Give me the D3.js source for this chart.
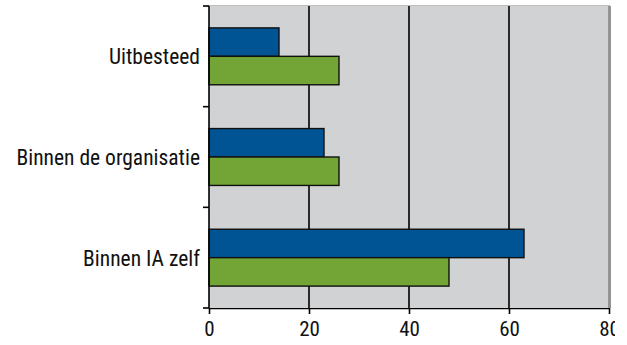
<!DOCTYPE html>
<html><head><meta charset="utf-8">
<script src="https://cdn.jsdelivr.net/npm/d3@7"></script>
<style>
html,body{margin:0;padding:0;background:#fff;}
text{font-family:"Liberation Sans Narrow","Roboto Condensed","Arial Narrow","Liberation Sans",sans-serif;}
</style></head>
<body><svg id="c" width="627" height="345"></svg>
<script>
const categories = ["Uitbesteed", "Binnen de organisatie", "Binnen IA zelf"];
const seriesNames = ["Reeks A", "Reeks B"];
const seriesA = [14, 23, 63];
const seriesB = [26, 26, 48];
const xTicks = [0, 20, 40, 60, 80];
const colors = ["#005493", "#72a535"];

const svg = d3.select("#c");
const m = {left: 209, top: 6, right: 609, bottom: 308};
const x = d3.scaleLinear().domain([0, 80]).range([m.left, m.right]);
const y = d3.scaleBand().domain(categories).range([m.top, m.bottom]).paddingInner(0).paddingOuter(0);
const sub = d3.scaleBand().domain(seriesNames).range([0, y.bandwidth()]).paddingOuter(0.77).paddingInner(0);

svg.append("defs").append("clipPath").attr("id", "clipR")
  .append("rect").attr("x", 0).attr("y", 0).attr("width", 615).attr("height", 345);

svg.append("rect").attr("x", m.left).attr("y", m.top).attr("width", m.right - m.left).attr("height", m.bottom - m.top).attr("fill", "#d1d2d4");
svg.append("line").attr("x1", m.left).attr("x2", m.right + 1).attr("y1", m.top - 0.5).attr("y2", m.top - 0.5).attr("stroke", "#bdbdbd").attr("stroke-width", 1);
svg.append("rect").attr("x", m.right - 1).attr("y", m.top).attr("width", 3).attr("height", m.bottom - m.top).attr("fill", "#939393");

svg.append("g").selectAll("line").data(xTicks.filter(d => d > 0 && d < 80)).join("line")
  .attr("x1", d => x(d)).attr("x2", d => x(d)).attr("y1", m.top).attr("y2", m.bottom)
  .attr("stroke", "#000").attr("stroke-width", 1.6);

const data = categories.map((c, i) => ({c, vals: [seriesA[i], seriesB[i]]}));
const g = svg.append("g");
data.forEach(d => {
  d.vals.forEach((v, j) => {
    g.append("rect")
      .attr("x", x(0)).attr("y", y(d.c) + sub(seriesNames[j]))
      .attr("width", x(v) - x(0)).attr("height", sub.bandwidth())
      .attr("fill", colors[j]).attr("stroke", "#111").attr("stroke-width", 1.4);
  });
});

const yAxis = svg.append("g");
yAxis.append("line").attr("x1", m.left).attr("x2", m.left).attr("y1", m.top).attr("y2", m.bottom).attr("stroke", "#000").attr("stroke-width", 1.6);
const bounds = [m.top, ...categories.map(c => y(c) + y.bandwidth())];
yAxis.selectAll(".t").data(bounds).join("line")
  .attr("x1", m.left - 6).attr("x2", m.left).attr("y1", d => d).attr("y2", d => d)
  .attr("stroke", "#000").attr("stroke-width", 1.6);
yAxis.selectAll("text").data(categories).join("text")
  .attr("x", m.left - 9).attr("y", d => y(d) + y.bandwidth() / 2 + 8)
  .attr("text-anchor", "end")
  .attr("font-size", 21.5).attr("fill", "#111").text(d => d);

const xAxis = svg.append("g").attr("transform", `translate(0,${m.bottom})`).attr("clip-path", "url(#clipR)")
  .call(d3.axisBottom(x).tickValues(xTicks).tickSize(6).tickPadding(3).tickSizeOuter(0));
xAxis.select(".domain").attr("stroke", "#000").attr("stroke-width", 1.6);
xAxis.selectAll(".tick line").attr("stroke", "#000").attr("stroke-width", 1.6);
xAxis.selectAll(".tick text").attr("font-size", 21).attr("fill", "#111").attr("dy", null).attr("y", 28)
  .attr("font-family", "'Liberation Sans Narrow','Roboto Condensed',sans-serif");
</script></body></html>
